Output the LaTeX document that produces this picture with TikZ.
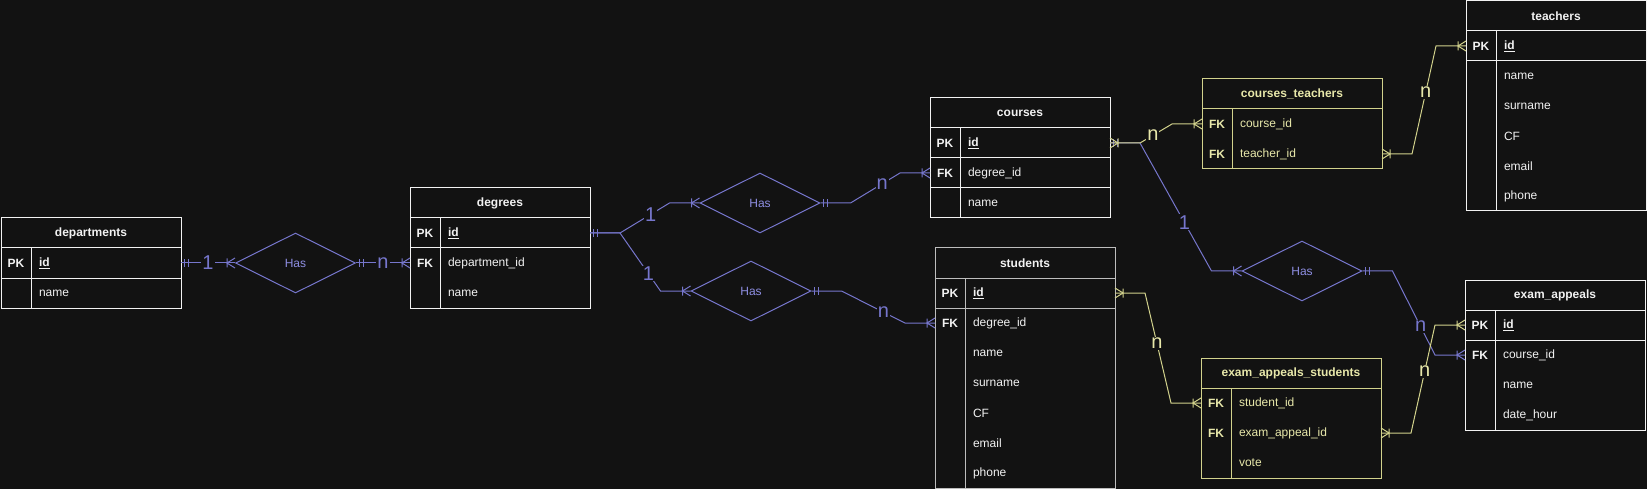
\documentclass[tikz,border=0pt]{standalone}
\usepackage{fontspec}
\setmainfont{Liberation Sans}
\usepackage{xcolor}
\definecolor{erBg}{HTML}{121212}
\definecolor{erWhite}{HTML}{F2F2F2}
\definecolor{erGray}{HTML}{BDBDBD}
\definecolor{erBlue}{HTML}{7676CC}
\definecolor{erBlueTxt}{HTML}{8E8EE2}
\definecolor{erYellow}{HTML}{D2D28C}
\definecolor{erYellowTxt}{HTML}{E8E8AA}
\usepackage{tikz}
\usetikzlibrary{positioning, arrows.meta, shapes.geometric}

% ER "mandatory one" end: two bars
\pgfdeclarearrow{
  name = ERone,
  parameters = {\the\pgfarrowwidth},
  setup code = {
    \pgfarrowssettipend{0pt}
    \pgfarrowssetlineend{0pt}
    \pgfarrowssetbackend{-8pt}
    \pgfarrowssavethe\pgfarrowwidth
  },
  drawing code = {
    \pgfpathmoveto{\pgfqpoint{-3pt}{.5\pgfarrowwidth}}
    \pgfpathlineto{\pgfqpoint{-3pt}{-.5\pgfarrowwidth}}
    \pgfpathmoveto{\pgfqpoint{-7pt}{.5\pgfarrowwidth}}
    \pgfpathlineto{\pgfqpoint{-7pt}{-.5\pgfarrowwidth}}
    \pgfusepathqstroke
  },
  defaults = {width = 8pt}
}

% ER "one to many" end: bar and crow's foot
\pgfdeclarearrow{
  name = ERmany,
  parameters = {\the\pgfarrowlength,\the\pgfarrowwidth},
  setup code = {
    \pgfarrowssettipend{0pt}
    \pgfarrowssetlineend{0pt}
    \pgfarrowssetbackend{-\pgfarrowlength}
    \pgfarrowssavethe\pgfarrowlength
    \pgfarrowssavethe\pgfarrowwidth
  },
  drawing code = {
    \pgfpathmoveto{\pgfqpoint{0pt}{.5\pgfarrowwidth}}
    \pgfpathlineto{\pgfqpoint{-\pgfarrowlength}{0pt}}
    \pgfpathlineto{\pgfqpoint{0pt}{-.5\pgfarrowwidth}}
    \pgfpathmoveto{\pgfqpoint{-\pgfarrowlength}{.45\pgfarrowwidth}}
    \pgfpathlineto{\pgfqpoint{-\pgfarrowlength}{-.45\pgfarrowwidth}}
    \pgfusepathqstroke
  },
  defaults = {length = 8pt, width = 10pt}
}

\begin{document}
\begin{tikzpicture}[
    x=1pt, y=-1pt,
    font=\fontsize{12}{14}\selectfont,
    head/.style={
        minimum width=180pt, minimum height=30pt,
        inner sep=0pt, outer sep=0pt, anchor=north west,
        font=\fontsize{12}{14}\selectfont\bfseries, text=erWhite
    },
    keyc/.style={
        minimum width=30pt, minimum height=30pt,
        inner sep=0pt, outer sep=0pt,
        font=\fontsize{12}{14}\selectfont\bfseries, text=erWhite
    },
    fld/.style={
        minimum height=30pt, inner xsep=8pt, inner ysep=0pt, outer sep=0pt,
        text width=134pt, align=left, text=erWhite
    },
    ytxt/.style={text=erYellowTxt},
    tline/.style={draw=erWhite, line width=1pt},
    gline/.style={draw=erGray, line width=1pt},
    yline/.style={draw=erYellow, line width=1pt},
    rel/.style={
        diamond, draw=erBlue, line width=1pt,
        minimum width=120pt, minimum height=60pt,
        inner sep=0pt, text=erBlueTxt
    },
    % connectors
    blink/.style={draw=erBlue, line width=1pt, arrows={ERone[]-ERmany[]}},
    ylink/.style={draw=erYellow, line width=1pt, arrows={ERmany[]-ERmany[]}},
    card/.style={font=\fontsize{20}{22}\selectfont, fill=erBg, inner sep=1pt},
]

\useasboundingbox[fill=erBg] (0,0) rectangle (1647,489);

%% =================================================================
%% departments
%% =================================================================
\node[head] (dep) at (1,218) {departments};
\node[keyc, anchor=north west] (depK1) at (dep.south west) {PK};
\node[fld, right=0pt of depK1] (depF1) {\textbf{\underline{id}}};
\node[keyc, below=0pt of depK1] (depK2) {};
\node[fld, right=0pt of depK2] (depF2) {name};
\draw[tline] (dep.north west) rectangle (depF2.south east);
\draw[tline] (dep.south west) -- (dep.south east);
\draw[tline] (depK1.south west) -- (depF1.south east);
\draw[tline] (depK1.north east) -- (depK2.south east);

%% =================================================================
%% degrees
%% =================================================================
\node[head] (deg) at (410,188) {degrees};
\node[keyc, anchor=north west] (degK1) at (deg.south west) {PK};
\node[fld, right=0pt of degK1] (degF1) {\textbf{\underline{id}}};
\node[keyc, below=0pt of degK1] (degK2) {FK};
\node[fld, right=0pt of degK2] (degF2) {department\_id};
\node[keyc, below=0pt of degK2] (degK3) {};
\node[fld, right=0pt of degK3] (degF3) {name};
\draw[tline] (deg.north west) rectangle (degF3.south east);
\draw[tline] (deg.south west) -- (deg.south east);
\draw[tline] (degK1.south west) -- (degF1.south east);
\draw[tline] (degK1.north east) -- (degK3.south east);

%% =================================================================
%% courses
%% =================================================================
\node[head] (crs) at (930,98) {courses};
\node[keyc, anchor=north west] (crsK1) at (crs.south west) {PK};
\node[fld, right=0pt of crsK1] (crsF1) {\textbf{\underline{id}}};
\node[keyc, below=0pt of crsK1] (crsK2) {FK};
\node[fld, right=0pt of crsK2] (crsF2) {degree\_id};
\node[keyc, below=0pt of crsK2] (crsK3) {};
\node[fld, right=0pt of crsK3] (crsF3) {name};
\draw[tline] (crs.north west) rectangle (crsF3.south east);
\draw[tline] (crs.south west) -- (crs.south east);
\draw[tline] (crsK1.south west) -- (crsF1.south east);
\draw[tline] (crsK2.south west) -- (crsF2.south east);
\draw[tline] (crsK1.north east) -- (crsK3.south east);

%% =================================================================
%% students
%% =================================================================
\node[head] (stu) at (935,248) {students};
\node[keyc, anchor=north west] (stuK1) at (stu.south west) {PK};
\node[fld, right=0pt of stuK1] (stuF1) {\textbf{\underline{id}}};
\node[keyc, below=0pt of stuK1] (stuK2) {FK};
\node[fld, right=0pt of stuK2] (stuF2) {degree\_id};
\node[keyc, below=0pt of stuK2] (stuK3) {};
\node[fld, right=0pt of stuK3] (stuF3) {name};
\node[keyc, below=0pt of stuK3] (stuK4) {};
\node[fld, right=0pt of stuK4] (stuF4) {surname};
\node[keyc, below=0pt of stuK4] (stuK5) {};
\node[fld, right=0pt of stuK5] (stuF5) {CF};
\node[keyc, below=0pt of stuK5] (stuK6) {};
\node[fld, right=0pt of stuK6] (stuF6) {email};
\node[keyc, below=0pt of stuK6] (stuK7) {};
\node[fld, right=0pt of stuK7] (stuF7) {phone};
\draw[gline] (stu.north west) rectangle (stuF7.south east);
\draw[gline] (stu.south west) -- (stu.south east);
\draw[gline] (stuK1.south west) -- (stuF1.south east);
\draw[gline] (stuK1.north east) -- (stuK7.south east);

%% =================================================================
%% courses_teachers
%% =================================================================
\node[head, ytxt] (ct) at (1202,79) {courses\_teachers};
\node[keyc, ytxt, anchor=north west] (ctK1) at (ct.south west) {FK};
\node[fld, ytxt, right=0pt of ctK1] (ctF1) {course\_id};
\node[keyc, ytxt, below=0pt of ctK1] (ctK2) {FK};
\node[fld, ytxt, right=0pt of ctK2] (ctF2) {teacher\_id};
\draw[yline] (ct.north west) rectangle (ctF2.south east);
\draw[yline] (ct.south west) -- (ct.south east);
\draw[yline] (ctK1.north east) -- (ctK2.south east);

%% =================================================================
%% teachers
%% =================================================================
\node[head] (tch) at (1466,1) {teachers};
\node[keyc, anchor=north west] (tchK1) at (tch.south west) {PK};
\node[fld, right=0pt of tchK1] (tchF1) {\textbf{\underline{id}}};
\node[keyc, below=0pt of tchK1] (tchK2) {};
\node[fld, right=0pt of tchK2] (tchF2) {name};
\node[keyc, below=0pt of tchK2] (tchK3) {};
\node[fld, right=0pt of tchK3] (tchF3) {surname};
\node[keyc, below=0pt of tchK3] (tchK4) {};
\node[fld, right=0pt of tchK4] (tchF4) {CF};
\node[keyc, below=0pt of tchK4] (tchK5) {};
\node[fld, right=0pt of tchK5] (tchF5) {email};
\node[keyc, below=0pt of tchK5] (tchK6) {};
\node[fld, right=0pt of tchK6] (tchF6) {phone};
\draw[tline] (tch.north west) rectangle (tchF6.south east);
\draw[tline] (tch.south west) -- (tch.south east);
\draw[tline] (tchK1.south west) -- (tchF1.south east);
\draw[tline] (tchK1.north east) -- (tchK6.south east);

%% =================================================================
%% exam_appeals
%% =================================================================
\node[head] (exa) at (1465,280) {exam\_appeals};
\node[keyc, anchor=north west] (exaK1) at (exa.south west) {PK};
\node[fld, right=0pt of exaK1] (exaF1) {\textbf{\underline{id}}};
\node[keyc, below=0pt of exaK1] (exaK2) {FK};
\node[fld, right=0pt of exaK2] (exaF2) {course\_id};
\node[keyc, below=0pt of exaK2] (exaK3) {};
\node[fld, right=0pt of exaK3] (exaF3) {name};
\node[keyc, below=0pt of exaK3] (exaK4) {};
\node[fld, right=0pt of exaK4] (exaF4) {date\_hour};
\draw[tline] (exa.north west) rectangle (exaF4.south east);
\draw[tline] (exa.south west) -- (exa.south east);
\draw[tline] (exaK1.south west) -- (exaF1.south east);
\draw[tline] (exaK1.north east) -- (exaK4.south east);

%% =================================================================
%% exam_appeals_students
%% =================================================================
\node[head, ytxt] (eas) at (1201,358) {exam\_appeals\_students};
\node[keyc, ytxt, anchor=north west] (easK1) at (eas.south west) {FK};
\node[fld, ytxt, right=0pt of easK1] (easF1) {student\_id};
\node[keyc, ytxt, below=0pt of easK1] (easK2) {FK};
\node[fld, ytxt, right=0pt of easK2] (easF2) {exam\_appeal\_id};
\node[keyc, ytxt, below=0pt of easK2] (easK3) {};
\node[fld, ytxt, right=0pt of easK3] (easF3) {vote};
\draw[yline] (eas.north west) rectangle (easF3.south east);
\draw[yline] (eas.south west) -- (eas.south east);
\draw[yline] (easK1.north east) -- (easK3.south east);

%% =================================================================
%% relationships
%% =================================================================
\node[rel] (hasDep) at (295.5,263) {Has};
\node[rel] (hasCrs) at (760,203) {Has};
\node[rel] (hasStu) at (751,291) {Has};
\node[rel] (hasExa) at (1302,271) {Has};

% departments -- degrees
\draw[blink] (depF1.east) -- node[card, text=erBlue] {1} (hasDep.west);
\draw[blink] (hasDep.east) -- node[card, text=erBlue] {n} (degK2.west);

% degrees -- courses / students
\draw[blink] (degF1.east) -- ++(30,0)
    -- node[card, text=erBlue, pos=.62] {1} ([xshift=-30pt]hasCrs.west) -- (hasCrs.west);
\draw[blink] (degF1.east) -- ++(30,0)
    -- node[card, text=erBlue, pos=.7] {1} ([xshift=-30pt]hasStu.west) -- (hasStu.west);
\draw[blink] (hasCrs.east) -- ++(30,0)
    -- node[card, text=erBlue, pos=.64] {n} ([xshift=-30pt]crsK2.west) -- (crsK2.west);
\draw[blink] (hasStu.east) -- ++(30,0)
    -- node[card, text=erBlue, pos=.66] {n} ([xshift=-30pt]stuK2.west) -- (stuK2.west);

% courses -- exam_appeals
\draw[blink] (crsF1.east) -- ++(30,0)
    -- node[card, text=erBlue, pos=.62] {1} ([xshift=-30pt]hasExa.west) -- (hasExa.west);
\draw[blink] (hasExa.east) -- ++(30,0)
    -- node[card, text=erBlue, pos=.66] {n} ([xshift=-30pt]exaK2.west) -- (exaK2.west);

% junction tables
\draw[ylink] (crsF1.east) -- ++(30,0)
    -- node[card, text=erYellowTxt, pos=.4] {n} ([xshift=-30pt]ctK1.west) -- (ctK1.west);
\draw[ylink] (ctF2.east) -- ++(30,0)
    -- node[card, text=erYellowTxt, pos=.57] {n} ([xshift=-30pt]tchK1.west) -- (tchK1.west);
\draw[ylink] (stuF1.east) -- ++(30,0)
    -- node[card, text=erYellowTxt, pos=.46] {n} ([xshift=-30pt]easK1.west) -- (easK1.west);
\draw[ylink] (easF2.east) -- ++(30,0)
    -- node[card, text=erYellowTxt, pos=.57] {n} ([xshift=-30pt]exaK1.west) -- (exaK1.west);

\end{tikzpicture}
\end{document}
